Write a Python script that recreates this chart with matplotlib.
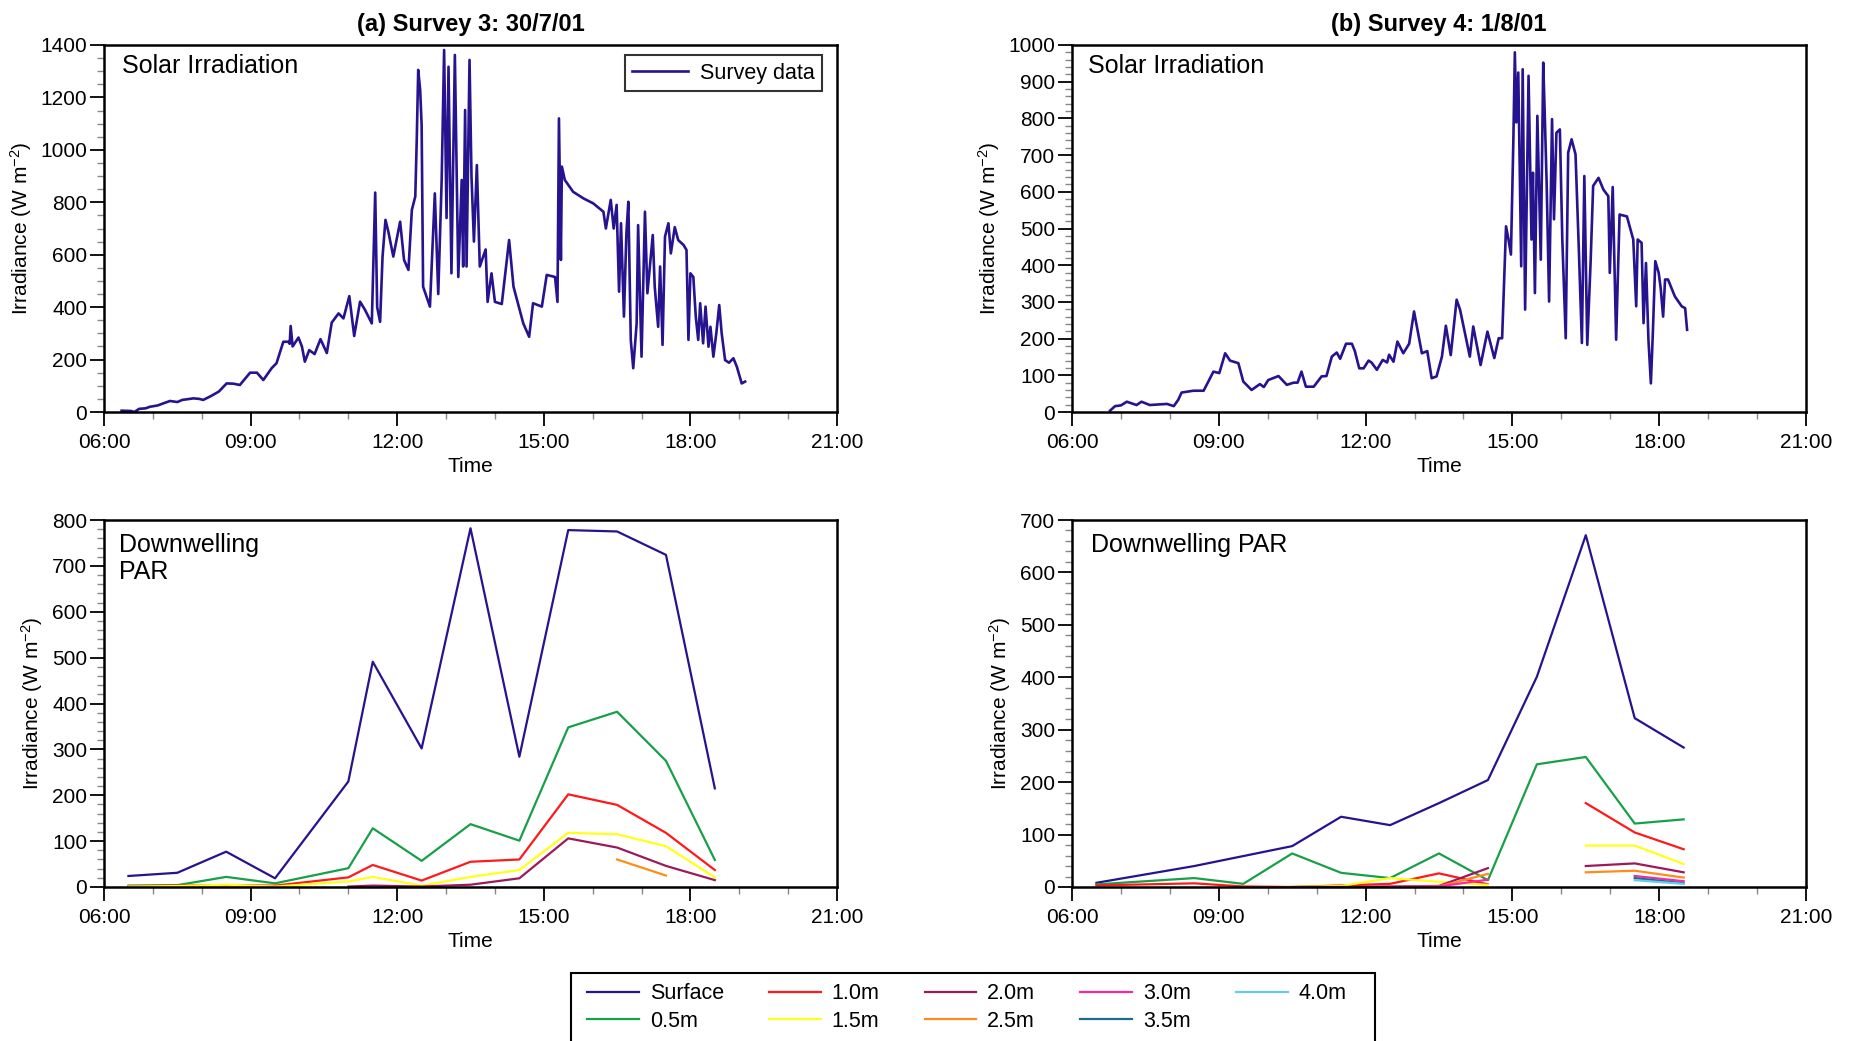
import numpy as np
import matplotlib
matplotlib.use("Agg")
import matplotlib.pyplot as plt
from matplotlib.ticker import MultipleLocator, FuncFormatter
from matplotlib.patches import Rectangle

plt.rcParams['font.family'] = ['Liberation Sans', 'DejaVu Sans']
plt.rcParams['mathtext.fontset'] = 'custom'
plt.rcParams['mathtext.rm'] = 'Liberation Sans'
plt.rcParams['mathtext.it'] = 'Liberation Sans:italic'

# ---------------- Data ----------------
# Survey 3 (30/7/01) solar irradiation: time (decimal hours), W m-2
s3_time = [6.36, 6.55, 6.62, 6.72, 6.85, 6.94, 7.1, 7.2, 7.35, 7.5, 7.6, 7.83, 7.95, 8.03, 8.2, 8.35,
           8.51, 8.65, 8.78, 8.9, 8.99, 9.13, 9.26, 9.43, 9.53, 9.67, 9.77, 9.8, 9.82, 9.86, 9.98, 10.05,
           10.11, 10.2, 10.31, 10.43, 10.56, 10.66, 10.8, 10.9, 11.02, 11.12, 11.24, 11.34, 11.48, 11.55,
           11.59, 11.65, 11.70, 11.76, 11.82, 11.92, 12.06, 12.14, 12.23, 12.3, 12.37, 12.40, 12.43, 12.47,
           12.5, 12.53, 12.67, 12.77, 12.84, 12.91, 12.96, 13.01, 13.05, 13.11, 13.18, 13.25, 13.32, 13.35,
           13.39, 13.42, 13.48, 13.52, 13.57, 13.63, 13.69, 13.81, 13.85, 13.93, 14.0, 14.14, 14.29, 14.38,
           14.58, 14.70, 14.78, 14.96, 15.06, 15.23, 15.28, 15.31, 15.35, 15.37, 15.43, 15.6, 15.81, 16.01,
           16.22, 16.27, 16.37, 16.43, 16.49, 16.54, 16.58, 16.64, 16.69, 16.73, 16.78, 16.83, 16.90, 16.93,
           17.0, 17.07, 17.12, 17.23, 17.27, 17.34, 17.38, 17.43, 17.48, 17.55, 17.6, 17.68, 17.75, 17.86,
           17.92, 17.96, 18.0, 18.06, 18.11, 18.16, 18.20, 18.26, 18.31, 18.37, 18.41, 18.47, 18.53, 18.59,
           18.64, 18.71, 18.79, 18.88, 18.95, 19.05, 19.12]
s3_irr = [5, 4, 0, 12, 14, 20, 25, 32, 42, 38, 46, 52, 50, 46, 62, 78,
          109, 108, 103, 130, 150, 150, 122, 167, 186, 268, 268, 260, 328, 250, 284, 250,
          192, 236, 221, 278, 225, 341, 376, 357, 442, 290, 421, 390, 338, 837,
          400, 344, 593, 733, 687, 593, 726, 580, 542, 771, 822, 1038, 1305, 1228,
          1095, 478, 402, 834, 450, 885, 1381, 740, 1317, 529, 1362, 515, 885, 555,
          1152, 555, 1343, 900, 650, 942, 555, 620, 420, 529, 420, 412, 656, 478,
          338, 287, 415, 402, 523, 515, 420, 1120, 580, 936, 885, 840, 815, 796,
          764, 700, 809, 700, 790, 459, 720, 364, 680, 802, 275, 167, 338, 713,
          211, 764, 453, 675, 478, 325, 555, 256, 669, 720, 605, 705, 656, 637,
          618, 275, 529, 515, 364, 275, 415, 262, 402, 249, 325, 211, 300, 408,
          300, 198, 188, 205, 173, 109, 116]

# Survey 4 (1/8/01) solar irradiation
s4_time = [6.78, 6.88, 7.0, 7.12, 7.32, 7.42, 7.59, 7.94, 8.08, 8.17, 8.24, 8.48, 8.69, 8.89, 9.01, 9.13,
           9.23, 9.40, 9.50, 9.67, 9.84, 9.92, 10.01, 10.22, 10.39, 10.53, 10.61, 10.69, 10.78, 10.94, 11.10,
           11.20, 11.31, 11.41, 11.48, 11.60, 11.72, 11.78, 11.87, 11.96, 12.06, 12.12, 12.23, 12.35, 12.44,
           12.48, 12.57, 12.65, 12.77, 12.89, 12.99, 13.15, 13.26, 13.35, 13.45, 13.56, 13.64, 13.74, 13.86,
           13.93, 14.03, 14.13, 14.20, 14.35, 14.49, 14.63, 14.72, 14.79, 14.87, 14.92, 14.97, 15.02, 15.05,
           15.08, 15.12, 15.15, 15.18, 15.21, 15.26, 15.33, 15.39, 15.42, 15.46, 15.51, 15.58, 15.63, 15.66,
           15.70, 15.75, 15.81, 15.85, 15.90, 15.97, 16.02, 16.09, 16.14, 16.21, 16.29, 16.36, 16.42, 16.47,
           16.53, 16.60, 16.65, 16.76, 16.86, 16.96, 16.99, 17.05, 17.12, 17.19, 17.34, 17.47, 17.53, 17.56,
           17.64, 17.68, 17.73, 17.78, 17.83, 17.87, 17.92, 17.99, 18.03, 18.08, 18.12, 18.18, 18.32, 18.46,
           18.53, 18.57]
s4_irr = [4, 16, 18, 28, 19, 28, 19, 22, 16, 33, 53, 58, 58, 110, 106, 160,
          140, 133, 83, 60, 76, 68, 87, 98, 74, 80, 80, 110, 69, 69, 97,
          98, 151, 162, 145, 186, 186, 166, 119, 119, 140, 135, 115, 142, 135,
          156, 137, 192, 160, 186, 274, 160, 166, 92, 97, 151, 235, 155, 306,
          279, 215, 151, 233, 128, 219, 147, 201, 201, 506, 470, 429, 743, 980,
          789, 925, 670, 397, 934, 279, 916, 470, 652, 324, 807, 415, 952, 816,
          624, 301, 798, 525, 761, 770, 470, 201, 707, 743, 702, 434, 188, 643,
          183, 415, 616, 638, 606, 588, 379, 613, 197, 538, 533, 470, 288, 470,
          461, 242, 406, 197, 78, 215, 411, 379, 338, 260, 361, 361, 315, 288,
          283, 224]

depth_labels = ['Surface', '0.5m', '1.0m', '1.5m', '2.0m', '2.5m', '3.0m', '3.5m', '4.0m']
depth_colors = ['#26138f', '#18a048', '#ff1a1a', '#ffff1a', '#9c1a5c', '#ff8c1a', '#ff22aa', '#1a6e8c', '#66ccee']

N = None
# Survey 3 downwelling PAR
par3_time = [6.5, 7.5, 8.5, 9.5, 11.0, 11.5, 12.5, 13.5, 14.5, 15.5, 16.5, 17.5, 18.5]
par3_surface = [24, 31, 77, 19, 230, 491, 302, 782, 284, 778, 775, 724, 215]
par3_0_5 = [3, 4, 22, 8, 41, 128, 57, 137, 101, 348, 382, 275, 59]
par3_1_0 = [2, 3, 4, 3, 21, 48, 14, 55, 60, 202, 179, 118, 37]
par3_1_5 = [1, 2, 5, 1, 12, 22, 3, 22, 37, 118, 115, 89, 21]
par3_2_0 = [N, N, N, N, 1, 3, 1, 5, 19, 106, 86, 46, 15]
par3_2_5 = [N, N, N, N, N, N, N, N, N, N, 60, 25, N]
par3_3_0 = [N] * 13
par3_3_5 = [N] * 13
par3_4_0 = [N] * 13

# Survey 4 downwelling PAR
par4_time = [6.5, 8.5, 9.5, 10.5, 11.5, 12.5, 13.5, 14.5, 15.5, 16.5, 17.5, 18.5]
par4_surface = [8, 40, 59, 78, 134, 118, 160, 204, 401, 671, 322, 266]
par4_0_5 = [5, 17, 6, 64, 27, 17, 64, 13, 234, 248, 121, 129]
par4_1_0 = [3, 7, 1, 0, 3, 6, 26, 5, N, 160, 104, 72]
par4_1_5 = [N, N, N, 0, 2, 17, 10, 4, N, 79, 79, 44]
par4_2_0 = [N, N, N, 0, 0, 1, 2, 36, N, 40, 45, 28]
par4_2_5 = [N, N, N, N, N, 0, 1, 25, N, 28, 31, 18]
par4_3_0 = [N, N, N, N, N, 0, 1, 14, N, N, 21, 11]
par4_3_5 = [N, N, N, N, N, N, N, N, N, N, 17, 7]
par4_4_0 = [N, N, N, N, N, N, N, N, N, N, 13, 6]

par3_series = [par3_surface, par3_0_5, par3_1_0, par3_1_5, par3_2_0, par3_2_5, par3_3_0, par3_3_5, par3_4_0]
par4_series = [par4_surface, par4_0_5, par4_1_0, par4_1_5, par4_2_0, par4_2_5, par4_3_0, par4_3_5, par4_4_0]

titles = ['(a) Survey 3: 30/7/01', '(b) Survey 4: 1/8/01']
ylabel = 'Irradiance (W m$^{-2}$)'

# ---------------- Figure ----------------
W, H = 1850, 1041
fig = plt.figure(figsize=(W / 100, H / 100), dpi=100)


def px_axes(x0, y0, x1, y1):
    return fig.add_axes([x0 / W, 1 - y1 / H, (x1 - x0) / W, (y1 - y0) / H])


ax_tl = px_axes(104, 45, 837, 412)
ax_tr = px_axes(1072, 45, 1806, 412)
ax_bl = px_axes(104, 520, 837, 887)
ax_br = px_axes(1072, 520, 1806, 887)

tfmt = FuncFormatter(lambda x, p: f"{int(round(x)):02d}:00")


def style(ax, ymax, ymaj, ymin):
    ax.set_xlim(6, 21)
    ax.set_ylim(0, ymax)
    ax.xaxis.set_major_locator(MultipleLocator(3))
    ax.xaxis.set_minor_locator(MultipleLocator(1))
    ax.xaxis.set_major_formatter(tfmt)
    ax.yaxis.set_major_locator(MultipleLocator(ymaj))
    ax.yaxis.set_minor_locator(MultipleLocator(ymin))
    ax.tick_params(axis='both', which='major', direction='out', length=10, width=1.3,
                   color='black', labelsize=15)
    ax.tick_params(axis='both', which='minor', direction='out', length=5, width=1.0,
                   color='#888888')
    ax.tick_params(axis='x', which='major', pad=5)
    ax.tick_params(axis='y', which='major', pad=2)
    for s in ax.spines.values():
        s.set_linewidth(1.8)
        s.set_color('black')
    ax.set_xlabel('Time', fontsize=15, labelpad=4)
    ax.set_ylabel(ylabel, fontsize=15, labelpad=5)


# top panels
ax_tl.plot(s3_time, s3_irr, color=depth_colors[0], lw=1.9, label='Survey data')
style(ax_tl, 1400, 200, 50)
ax_tl.text(0.024, 0.975, 'Solar Irradiation', transform=ax_tl.transAxes, fontsize=18,
           va='top', ha='left')
leg1 = ax_tl.legend(loc='upper right', bbox_to_anchor=(0.98, 0.972), fontsize=15.5,
                    frameon=True, fancybox=False, edgecolor='black', handlelength=2.6,
                    handletextpad=0.55, borderpad=0.35, borderaxespad=0)
leg1.get_frame().set_linewidth(1.5)

ax_tr.plot(s4_time, s4_irr, color=depth_colors[0], lw=1.9)
style(ax_tr, 1000, 100, 20)
ax_tr.text(0.022, 0.975, 'Solar Irradiation', transform=ax_tr.transAxes, fontsize=18,
           va='top', ha='left')

ax_tl.set_title(titles[0], fontsize=17, fontweight='bold', pad=10)
ax_tr.set_title(titles[1], fontsize=17, fontweight='bold', pad=10)

# bottom panels
handles = []
for vals, lab, col in zip(par3_series, depth_labels, depth_colors):
    h, = ax_bl.plot(par3_time, np.array(vals, dtype=float), color=col, lw=1.6, label=lab)
    handles.append(h)
style(ax_bl, 800, 100, 20)
ax_bl.text(0.02, 0.965, 'Downwelling\nPAR', transform=ax_bl.transAxes, fontsize=18,
           va='top', ha='left', linespacing=1.15)

for vals, lab, col in zip(par4_series, depth_labels, depth_colors):
    ax_br.plot(par4_time, np.array(vals, dtype=float), color=col, lw=1.6, label=lab)
style(ax_br, 700, 100, 20)
ax_br.text(0.026, 0.965, 'Downwelling PAR', transform=ax_br.transAxes, fontsize=18,
           va='top', ha='left')

# bottom legend with a manually sized frame
fig.patches.append(Rectangle((571 / W, -0.05), (1375 - 571) / W, 0.05 + 1 - 973 / H,
                             transform=fig.transFigure, fill=False, edgecolor='black',
                             linewidth=1.5))
leg2 = fig.legend(handles, depth_labels, loc='upper left',
                  bbox_to_anchor=(581 / W, 1 - 977 / H), ncol=5, fontsize=15.5,
                  frameon=False, handlelength=2.4,
                  handletextpad=0.5, columnspacing=2.1, labelspacing=0.3,
                  borderpad=0.3, borderaxespad=0)

fig.savefig('out.png', dpi=100, facecolor='white')
